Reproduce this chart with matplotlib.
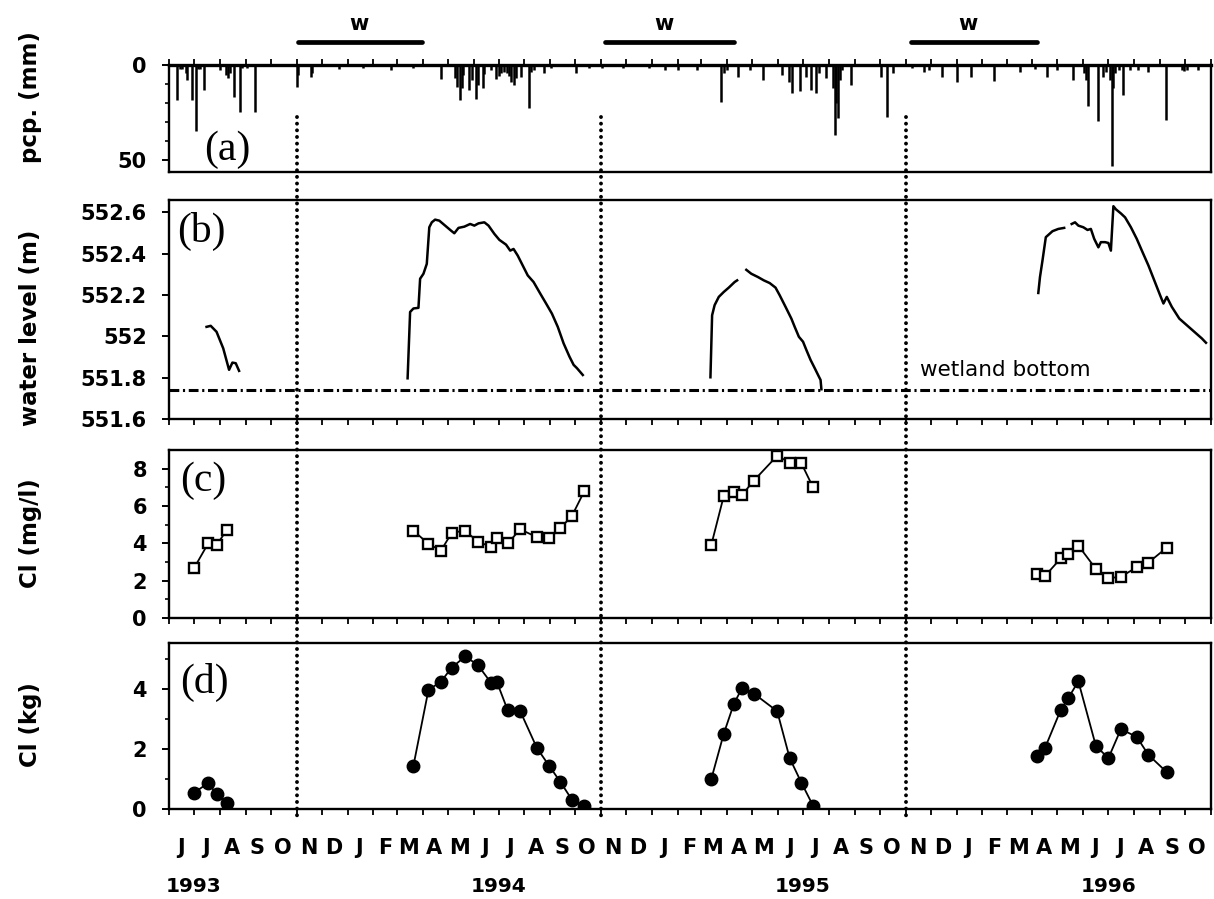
import numpy as np
import pandas as pd
import matplotlib
matplotlib.use("Agg")
import matplotlib.pyplot as plt
import matplotlib.dates as mdates
from matplotlib.lines import Line2D
from matplotlib.transforms import blended_transform_factory
from matplotlib.ticker import FixedLocator, FuncFormatter, NullFormatter

# ---------------- data ----------------
# daily precipitation events (mm)
pcp_dates = [
    "1993-06-10", "1993-06-14", "1993-06-16", "1993-06-21", "1993-06-23", "1993-06-28",
    "1993-07-03", "1993-07-06", "1993-07-08", "1993-07-13", "1993-08-01", "1993-08-08",
    "1993-08-11", "1993-08-13", "1993-08-18", "1993-08-25", "1993-08-28", "1993-09-02",
    "1993-09-12", "1993-11-01", "1993-11-03", "1993-11-18", "1993-11-20", "1993-12-22",
    "1994-01-20", "1994-02-22", "1994-03-20",
    "1994-04-23", "1994-05-10", "1994-05-12", "1994-05-16", "1994-05-18", "1994-05-20",
    "1994-05-27", "1994-05-30", "1994-06-04", "1994-06-06", "1994-06-12", "1994-06-14",
    "1994-06-22", "1994-06-28", "1994-07-01", "1994-07-04", "1994-07-08", "1994-07-11",
    "1994-07-13", "1994-07-16", "1994-07-20", "1994-07-22", "1994-07-28", "1994-08-06",
    "1994-08-09", "1994-08-12", "1994-08-24", "1994-09-02", "1994-10-02", "1994-10-18",
    "1994-11-02", "1994-11-27", "1994-12-28", "1995-01-17",
    "1995-02-01", "1995-02-24", "1995-03-25", "1995-03-28", "1995-04-01", "1995-04-14",
    "1995-04-28", "1995-05-14", "1995-06-06", "1995-06-14", "1995-06-18", "1995-06-27",
    "1995-07-04", "1995-07-10", "1995-07-16", "1995-07-20", "1995-07-29", "1995-08-06",
    "1995-08-08", "1995-08-10", "1995-08-12", "1995-08-14", "1995-08-17", "1995-08-27",
    "1995-10-03", "1995-10-10", "1995-10-17", "1995-11-09", "1995-11-23", "1995-11-29",
    "1995-12-14", "1996-01-01", "1996-01-18", "1996-02-15", "1996-03-17", "1996-04-04",
    "1996-04-19", "1996-04-30", "1996-05-19", "1996-06-02", "1996-06-04", "1996-06-07",
    "1996-06-19", "1996-06-25", "1996-06-28", "1996-07-03", "1996-07-05", "1996-07-07",
    "1996-07-09", "1996-07-14", "1996-07-19", "1996-07-27", "1996-08-06", "1996-08-18",
    "1996-09-08", "1996-09-27", "1996-09-30", "1996-10-03", "1996-10-17",
]
pcp_mm = [
    18.4, 2.0, 2.0, 4.4, 8.0, 18.4,
    35.0, 2.0, 2.0, 13.0, 2.6, 5.3,
    7.0, 4.4, 16.7, 24.6, 1.8, 1.8,
    24.9, 11.4, 5.3, 6.1, 4.4, 2.0,
    1.8, 2.6, 1.4,
    7.4, 7.0, 11.4, 18.4, 12.0, 5.3,
    13.0, 8.0, 17.9, 10.5, 12.3, 5.0,
    2.6, 7.4, 6.0, 4.4, 3.5, 4.4,
    6.0, 8.8, 10.5, 7.0, 6.1, 22.8,
    3.5, 2.6, 4.4, 1.8, 4.4, 1.4,
    1.8, 1.4, 1.8, 2.6,
    2.6, 2.6, 19.3, 4.4, 2.6, 6.1,
    2.6, 7.9, 5.3, 8.8, 14.9, 13.7,
    6.1, 13.2, 14.9, 4.4, 7.0, 12.0,
    36.8, 20.0, 28.0, 8.0, 2.6, 10.5,
    6.1, 27.2, 4.4, 1.8, 3.5, 2.6,
    6.1, 8.8, 6.1, 8.4, 3.5, 2.0,
    6.1, 2.6, 7.9, 4.4, 7.9, 21.9,
    29.8, 6.1, 3.5, 8.0, 53.5, 12.0,
    4.4, 2.6, 15.8, 2.6, 2.6, 3.5,
    29.0, 2.6, 3.0, 2.6, 2.6,
]

# wetland water level (m), continuous records
wl93_dates = ["1993-07-16", "1993-07-21", "1993-07-28", "1993-08-05", "1993-08-12",
              "1993-08-16", "1993-08-20", "1993-08-24"]
wl93_m = [552.046, 552.051, 552.022, 551.942, 551.838, 551.873, 551.870, 551.833]

wl94_dates = ["1994-03-14", "1994-03-17", "1994-03-21", "1994-03-27", "1994-03-29",
              "1994-04-02", "1994-04-06", "1994-04-09", "1994-04-12", "1994-04-16",
              "1994-04-21", "1994-04-28", "1994-05-05", "1994-05-09", "1994-05-14",
              "1994-05-21", "1994-05-28", "1994-06-02", "1994-06-07", "1994-06-14",
              "1994-06-19", "1994-06-26", "1994-07-02", "1994-07-10", "1994-07-15",
              "1994-07-19", "1994-07-24", "1994-07-31", "1994-08-05", "1994-08-12",
              "1994-08-20", "1994-08-27", "1994-09-03", "1994-09-10", "1994-09-17",
              "1994-09-24", "1994-09-29", "1994-10-03", "1994-10-10"]
wl94_m = [551.797, 552.118, 552.135, 552.138, 552.279,
          552.303, 552.351, 552.528, 552.552, 552.565,
          552.560, 552.536, 552.512, 552.499, 552.525,
          552.531, 552.544, 552.536, 552.547, 552.552,
          552.536, 552.496, 552.467, 552.444, 552.415,
          552.423, 552.391, 552.335, 552.295, 552.263,
          552.207, 552.159, 552.110, 552.046, 551.966,
          551.902, 551.862, 551.846, 551.813]

wl95a_dates = ["1995-03-12", "1995-03-14", "1995-03-17", "1995-03-22", "1995-03-28",
               "1995-04-03", "1995-04-10", "1995-04-13"]
wl95a_m = [551.802, 552.102, 552.151, 552.191, 552.215, 552.236, 552.263, 552.271]

wl95b_dates = ["1995-04-24", "1995-04-30", "1995-05-08", "1995-05-15", "1995-05-22",
               "1995-05-29", "1995-06-03", "1995-06-10", "1995-06-17", "1995-06-21",
               "1995-06-26", "1995-07-01", "1995-07-05", "1995-07-10", "1995-07-15",
               "1995-07-20", "1995-07-22", "1995-07-23"]
wl95b_m = [552.322, 552.303, 552.287, 552.271, 552.258,
           552.236, 552.199, 552.143, 552.086, 552.046,
           551.998, 551.974, 551.934, 551.886, 551.846,
           551.805, 551.789, 551.744]

wl96a_dates = ["1996-04-08", "1996-04-10", "1996-04-13", "1996-04-17", "1996-04-25",
               "1996-05-02", "1996-05-09"]
wl96a_m = [552.210, 552.287, 552.367, 552.480, 552.509, 552.520, 552.525]

wl96b_dates = ["1996-05-18", "1996-05-22", "1996-05-26", "1996-06-01", "1996-06-06",
               "1996-06-10", "1996-06-14", "1996-06-19", "1996-06-22", "1996-06-27",
               "1996-07-01", "1996-07-04", "1996-07-07", "1996-07-10", "1996-07-16",
               "1996-07-21", "1996-07-28", "1996-08-04", "1996-08-11", "1996-08-18",
               "1996-08-25", "1996-09-01", "1996-09-05", "1996-09-09", "1996-09-15",
               "1996-09-24", "1996-10-03", "1996-10-12", "1996-10-21", "1996-10-26"]
wl96b_m = [552.544, 552.552, 552.536, 552.528, 552.515,
           552.520, 552.472, 552.431, 552.456, 552.456,
           552.452, 552.415, 552.630, 552.615, 552.595,
           552.576, 552.528, 552.472, 552.407, 552.343,
           552.271, 552.199, 552.159, 552.191, 552.143,
           552.086, 552.054, 552.022, 551.990, 551.969]

wetland_bottom = 551.74

# chloride sampling: concentration (mg/l) and mass (kg)
cl93_dates = ["1993-07-01", "1993-07-18", "1993-07-28", "1993-08-09"]
cl93_conc = [2.67, 4.0, 3.9, 4.7]
cl93_mass = [0.54, 0.87, 0.50, 0.20]

cl94_dates = ["1994-03-21", "1994-04-08", "1994-04-23", "1994-05-06", "1994-05-22",
              "1994-06-06", "1994-06-22", "1994-06-29", "1994-07-12", "1994-07-27",
              "1994-08-16", "1994-08-31", "1994-09-13", "1994-09-27", "1994-10-12"]
cl94_conc = [4.68, 3.97, 3.61, 4.57, 4.68, 4.09, 3.82, 4.27, 4.0, 4.75,
             4.33, 4.27, 4.81, 5.47, 6.81]
cl94_mass = [1.45, 3.98, 4.26, 4.73, 5.10, 4.82, 4.22, 4.25, 3.30, 3.27,
             2.04, 1.43, 0.91, 0.31, 0.09]

cl95_dates = ["1995-03-13", "1995-03-28", "1995-04-09", "1995-04-19", "1995-05-03",
              "1995-05-31", "1995-06-15", "1995-06-29", "1995-07-13"]
cl95_conc = [3.91, 6.54, 6.77, 6.6, 7.36, 8.69, 8.33, 8.29, 7.0]
cl95_mass = [1.0, 2.52, 3.51, 4.05, 3.86, 3.27, 1.70, 0.88, 0.11]

cl96_dates = ["1996-04-07", "1996-04-16", "1996-05-05", "1996-05-14", "1996-05-26",
              "1996-06-16", "1996-07-01", "1996-07-16", "1996-08-04", "1996-08-18",
              "1996-09-09"]
cl96_conc = [2.34, 2.25, 3.2, 3.43, 3.88, 2.63, 2.13, 2.21, 2.72, 2.97, 3.77]
cl96_mass = [1.78, 2.04, 3.32, 3.71, 4.27, 2.11, 1.70, 2.67, 2.41, 1.81, 1.23]

# winter periods
winter_starts = ["1993-11-03", "1994-11-06", "1995-11-07"]
winter_ends = ["1994-03-31", "1995-04-09", "1996-04-07"]
winter_label_dates = ["1994-01-15", "1995-01-15", "1996-01-15"]

# hydrological-year separators
year_breaks = ["1993-11-01", "1994-11-01", "1995-11-01"]

year_labels = ["1993", "1994", "1995", "1996"]
year_label_dates = ["1993-07-01", "1994-07-01", "1995-07-01", "1996-07-01"]

period_start, period_end = "1993-06-01", "1996-11-01"

# ---------------- figure ----------------
plt.rcParams['font.family'] = ['DejaVu Sans']
plt.rcParams['font.weight'] = 'bold'
plt.rcParams['font.size'] = 15
plt.rcParams['axes.linewidth'] = 1.7

W, H = 1214, 899
fig = plt.figure(figsize=(W / 100, H / 100), dpi=100)


def panel(top, bottom):
    return fig.add_axes([169 / W, 1 - bottom / H, (1211 - 169) / W, (bottom - top) / H])


ax_a = panel(65, 172)
ax_b = panel(200, 419)
ax_c = panel(450, 618)
ax_d = panel(643, 809)
axes = [ax_a, ax_b, ax_c, ax_d]

D = lambda seq: pd.to_datetime(seq)

month_starts = pd.date_range(period_start, period_end, freq="MS")
month_mids = month_starts[:-1] + pd.Timedelta(days=14)
month_letters = [d.strftime("%b")[0] for d in month_starts[:-1]]

for ax in axes:
    ax.set_xlim(D([period_start])[0], D([period_end])[0])
    ax.xaxis.set_major_locator(FixedLocator(mdates.date2num(month_starts)))
    ax.xaxis.set_major_formatter(NullFormatter())
    ax.tick_params(axis="x", which="major", direction="out", length=4, width=1.3)
    ax.tick_params(axis="y", which="major", direction="out", length=5, width=1.4,
                   pad=11, labelsize=15)
    ax.tick_params(axis="y", which="minor", direction="out", length=3, width=1.2)

# (a) precipitation
ax_a.vlines(D(pcp_dates), 0, pcp_mm, color="black", lw=1.8)
ax_a.set_ylim(56.5, 0)
ax_a.yaxis.set_major_locator(FixedLocator([0, 50]))
ax_a.yaxis.set_minor_locator(FixedLocator([10, 20, 30, 40]))
ax_a.xaxis.tick_top()
ax_a.tick_params(axis="x", which="major", top=True, bottom=False, labeltop=False)
ax_a.spines["top"].set_linewidth(2.4)

# (b) water level
for dts, vals in [(wl93_dates, wl93_m), (wl94_dates, wl94_m), (wl95a_dates, wl95a_m),
                  (wl95b_dates, wl95b_m), (wl96a_dates, wl96a_m), (wl96b_dates, wl96b_m)]:
    ax_b.plot(D(dts), vals, color="black", lw=1.8)
ax_b.axhline(wetland_bottom, color="black", lw=2.2, linestyle=(0, (3.2, 1.2, 0.7, 1.2)))
ax_b.set_ylim(551.6, 552.66)
ax_b.yaxis.set_major_locator(FixedLocator([551.6, 551.8, 552.0, 552.2, 552.4, 552.6]))
ax_b.yaxis.set_major_formatter(FuncFormatter(lambda v, p: f"{v:g}"))
ax_b.text(D(["1995-11-18"])[0], 551.835, "wetland bottom", fontsize=15.5,
          fontweight="normal", va="center", ha="left")

# (c) chloride concentration
for dts, vals in [(cl93_dates, cl93_conc), (cl94_dates, cl94_conc),
                  (cl95_dates, cl95_conc), (cl96_dates, cl96_conc)]:
    ax_c.plot(D(dts), vals, color="black", lw=1.3, marker="s", ms=7,
              mfc="white", mec="black", mew=1.7)
ax_c.set_ylim(0, 9)
ax_c.yaxis.set_major_locator(FixedLocator([0, 2, 4, 6, 8]))
ax_c.yaxis.set_minor_locator(FixedLocator([1, 3, 5, 7]))

# (d) chloride mass
for dts, vals in [(cl93_dates, cl93_mass), (cl94_dates, cl94_mass),
                  (cl95_dates, cl95_mass), (cl96_dates, cl96_mass)]:
    ax_d.plot(D(dts), vals, color="black", lw=1.3, marker="o", ms=9,
              mfc="black", mec="black")
ax_d.set_ylim(0, 5.55)
ax_d.yaxis.set_major_locator(FixedLocator([0, 2, 4]))
ax_d.yaxis.set_minor_locator(FixedLocator([1, 3, 5]))

# month letters under the bottom panel
ax_d.xaxis.set_minor_locator(FixedLocator(mdates.date2num(month_mids)))
ax_d.xaxis.set_minor_formatter(FuncFormatter(lambda v, p: month_letters[p]))
ax_d.tick_params(axis="x", which="minor", length=0, pad=21, labelsize=15)

# year labels
tr_year = blended_transform_factory(ax_d.transData, fig.transFigure)
for lab, dt in zip(year_labels, year_label_dates):
    fig.text(mdates.date2num(D([dt])[0]), 1 - 887 / H, lab, transform=tr_year,
             ha="center", va="center", fontsize=14.5)

# axis titles
for txt, yc in [("pcp. (mm)", 97), ("water level (m)", 328),
                ("Cl (mg/l)", 533), ("Cl (kg)", 725)]:
    fig.text(31 / W, 1 - yc / H, txt, rotation=90, ha="center", va="center",
             fontsize=16.5)

# panel tags
for tag, (xc, yc) in zip(["(a)", "(b)", "(c)", "(d)"],
                         [(227, 150), (201, 231), (203, 481), (204, 682)]):
    fig.text(xc / W, 1 - yc / H, tag, family="Liberation Serif", fontweight="normal",
             fontsize=30, ha="center", va="center")

# winter bars above the top panel
tr_top = blended_transform_factory(ax_a.transData, fig.transFigure)
for s, e, c in zip(winter_starts, winter_ends, winter_label_dates):
    xs = mdates.date2num(D([s, e]))
    fig.add_artist(Line2D(xs, [1 - 42 / H] * 2, transform=tr_top, color="black",
                          lw=3.4, solid_capstyle="round"))
    fig.text(mdates.date2num(D([c])[0]), 1 - 24 / H, "w", transform=tr_top,
             ha="center", va="center", fontsize=15)

# dotted separators through all panels
for b in year_breaks:
    xb = mdates.date2num(D([b])[0])
    fig.add_artist(Line2D([xb, xb], [1 - 117 / H, 1 - 820 / H], transform=tr_top,
                          color="black", lw=2.8, linestyle=(0, (0.01, 1.7)),
                          dash_capstyle="round"))

fig.savefig("out.png", dpi=100)
